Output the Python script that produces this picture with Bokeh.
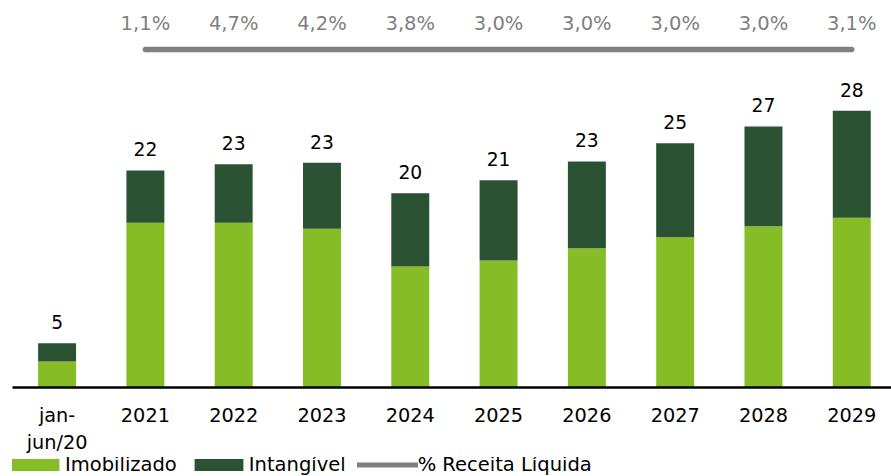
from bokeh.plotting import figure
from bokeh.layouts import column
from bokeh.models import Range1d, FixedTicker, Legend, LegendItem, ColumnDataSource
from bokeh.core.properties import value
from bokeh.embed import file_html
from bokeh.resources import INLINE

# ---- data ----
categories = ["jan-\njun/20", "2021", "2022", "2023", "2024", "2025", "2026", "2027", "2028", "2029"]
imobilizado = [2.66, 16.84, 16.84, 16.23, 12.37, 12.99, 14.24, 15.37, 16.49, 17.35]
intangivel = [1.87, 5.35, 5.99, 6.74, 7.50, 8.21, 8.87, 9.61, 10.20, 10.94]
pct_categories = ["2021", "2022", "2023", "2024", "2025", "2026", "2027", "2028", "2029"]
pct_receita = [1.1, 4.7, 4.2, 3.8, 3.0, 3.0, 3.0, 3.0, 3.1]
series_names = ["Imobilizado", "Intangível", "% Receita Líquida"]

FONT = "DejaVu Sans"
LIGHT = "#86BC25"
DARK = "#2C5234"
GRAY = "#808080"

idx = list(range(len(categories)))
totals = [a + b for a, b in zip(imobilizado, intangivel)]
total_labels = [str(int(round(t))) for t in totals]
pct_x = [categories.index(c) for c in pct_categories]
pct_text = [f"{v:.1f}".replace(".", ",") + "%" for v in pct_receita]
line_level = 34.56
label_level = 37.2

src = ColumnDataSource(dict(x=idx, imob=imobilizado, intang=intangivel))
line_src = ColumnDataSource(dict(x=pct_x, y=[line_level] * len(pct_x)))

p = figure(frame_width=879, frame_height=379, output_backend="svg", toolbar_location=None,
           x_range=Range1d(-0.505, 9.45), y_range=Range1d(0, 38.75),
           y_axis_location=None, min_border_left=12, min_border_right=0,
           min_border_top=8, min_border_bottom=66)

p.vbar_stack(["imob", "intang"], x="x", width=0.43, source=src,
             fill_color=[LIGHT, DARK], line_color=None)
p.line(x="x", y="y", source=line_src, line_width=5.5, line_color=GRAY, line_cap="round")
p.text(x=pct_x, y=[label_level] * len(pct_x), text=pct_text, text_align="center",
       text_baseline="middle", text_font=value(FONT), text_font_size="19.5px",
       text_color="#7F7F7F")
p.text(x=idx, y=totals, text=total_labels, y_offset=-21, text_align="center",
       text_baseline="middle", text_font=value(FONT), text_font_size="18.7px",
       text_color="#000000")

ax = p.xaxis[0]
ax.ticker = FixedTicker(ticks=idx)
ax.major_label_overrides = {i: c for i, c in zip(idx, categories)}
ax.axis_line_width = 2.5
ax.axis_line_color = "#000000"
ax.major_tick_line_color = None
ax.minor_tick_line_color = None
ax.major_label_text_font = FONT
ax.major_label_text_font_size = "19.3px"
ax.major_label_text_color = "#000000"
ax.major_label_standoff = 10

p.xgrid.visible = False
p.ygrid.visible = False
p.outline_line_color = None

# legend strip below the chart (same series, ranges chosen so only the legend shows)
lg = figure(width=891, height=23, output_backend="svg", toolbar_location=None,
            x_range=Range1d(100, 101), y_range=Range1d(100, 101),
            x_axis_location=None, y_axis_location=None, min_border=0)
lg.xgrid.visible = False
lg.ygrid.visible = False
lg.outline_line_color = None
k1, k2 = lg.vbar_stack(["imob", "intang"], x="x", width=0.43, source=src,
                       fill_color=[LIGHT, DARK], line_color=None)
k3 = lg.line(x="x", y="y", source=line_src, line_width=5, line_color=GRAY, line_cap="round")

legend = Legend(items=[LegendItem(label=series_names[0], renderers=[k1]),
                       LegendItem(label=series_names[1], renderers=[k2]),
                       LegendItem(label=series_names[2], renderers=[k3])],
                orientation="horizontal", location=(-8, 4),
                margin=0, padding=0, spacing=11, glyph_width=61, glyph_height=15,
                label_height=12, label_standoff=0, label_text_font=FONT,
                label_text_font_size="19.5px", label_text_color="#000000",
                border_line_color=None, background_fill_alpha=0)
lg.add_layout(legend, "center")

layout = column(p, lg, spacing=0)
open("out.html", "w").write(file_html(layout, INLINE))
